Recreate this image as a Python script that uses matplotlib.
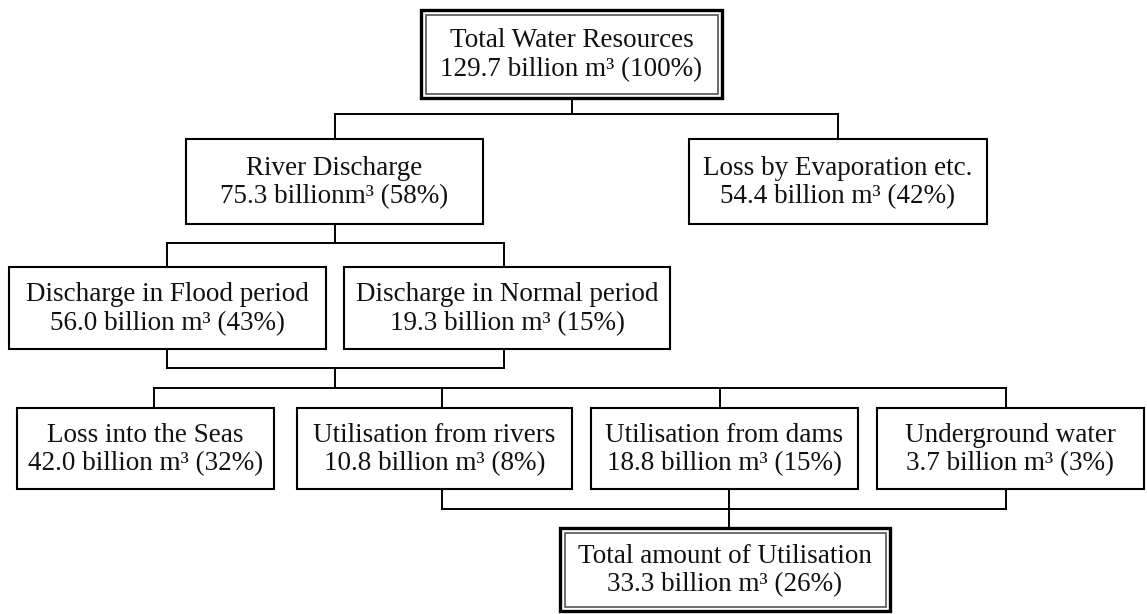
import matplotlib
matplotlib.use("Agg")
import matplotlib.pyplot as plt
from matplotlib.patches import Rectangle

# ---- data ----
node_names = ["Total Water Resources", "River Discharge", "Loss by Evaporation etc.",
              "Discharge in Flood period", "Discharge in Normal period",
              "Loss into the Seas", "Utilisation from rivers", "Utilisation from dams",
              "Underground water", "Total amount of Utilisation"]
node_values = ["129.7", "75.3", "54.4", "56.0", "19.3", "42.0", "10.8", "18.8", "3.7", "33.3"]
node_pcts = [100, 58, 42, 43, 15, 32, 8, 15, 3, 26]
unit_sep = [" ", "", " ", " ", " ", " ", " ", " ", " ", " "]
double_border = [True, False, False, False, False, False, False, False, False, True]

# ---- layout (pixel positions: x0, x1, y0, y1) ----
boxes = [
    (421, 722, 10, 98),
    (186, 483, 139, 224),
    (689, 987, 139, 224),
    (9, 326, 267, 349),
    (344, 670, 267, 349),
    (17, 274, 408, 489),
    (297, 572, 408, 489),
    (591, 858, 408, 489),
    (877, 1144, 408, 489),
    (560, 890, 528, 611),
]

connectors = [
    [(572, 98), (572, 114)],
    [(335, 114), (838, 114)],
    [(335, 114), (335, 139)],
    [(838, 114), (838, 139)],
    [(335, 224), (335, 243)],
    [(167, 243), (504, 243)],
    [(167, 243), (167, 267)],
    [(504, 243), (504, 267)],
    [(167, 349), (167, 368)],
    [(504, 349), (504, 368)],
    [(167, 368), (504, 368)],
    [(335, 368), (335, 388)],
    [(154, 388), (1006, 388)],
    [(154, 388), (154, 408)],
    [(442, 388), (442, 408)],
    [(720, 388), (720, 408)],
    [(1006, 388), (1006, 408)],
    [(442, 489), (442, 509)],
    [(1006, 489), (1006, 509)],
    [(442, 509), (1006, 509)],
    [(729, 489), (729, 528)],
]

W, H = 1147, 614
fig = plt.figure(figsize=(W / 100, H / 100), dpi=100)
ax = fig.add_axes([0, 0, 1, 1])
ax.set_xlim(0, W)
ax.set_ylim(H, 0)
ax.axis("off")

for seg in connectors:
    (xa, ya), (xb, yb) = seg
    ax.plot([xa, xb], [ya, yb], color="black", lw=1.4, solid_capstyle="projecting", zorder=1)

for i, (x0, x1, y0, y1) in enumerate(boxes):
    if double_border[i]:
        ax.add_patch(Rectangle((x0, y0), x1 - x0, y1 - y0, facecolor="white",
                               edgecolor="black", lw=2.4, zorder=2))
        inset = 4.5
        ax.add_patch(Rectangle((x0 + inset, y0 + inset), x1 - x0 - 2 * inset,
                               y1 - y0 - 2 * inset, facecolor="none",
                               edgecolor="#555555", lw=1.2, zorder=3))
    else:
        ax.add_patch(Rectangle((x0, y0), x1 - x0, y1 - y0, facecolor="white",
                               edgecolor="black", lw=1.5, zorder=2))
    label = f"{node_names[i]}\n{node_values[i]} billion{unit_sep[i]}m\u00b3 ({node_pcts[i]}%)"
    ax.text((x0 + x1) / 2, (y0 + y1) / 2 + 1, label, ha="center", va="center",
            family=["Liberation Serif", "DejaVu Serif"], fontsize=19.5,
            linespacing=1.2, color="#111111", zorder=4)

fig.savefig("out.png", dpi=100)
